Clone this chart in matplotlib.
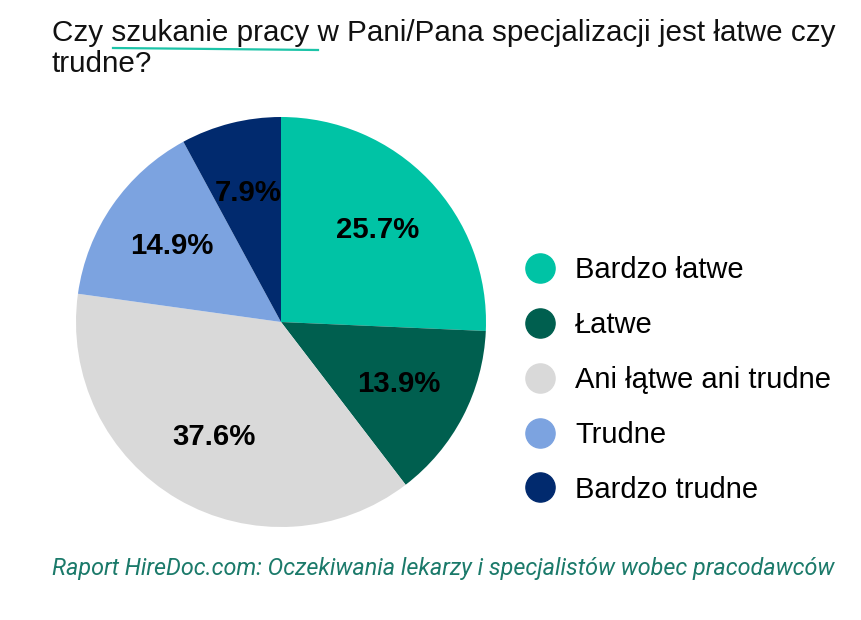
import matplotlib
matplotlib.use("Agg")
import matplotlib.pyplot as plt
from matplotlib.lines import Line2D

categories = ["Bardzo łatwe", "Łatwe", "Ani łątwe ani trudne", "Trudne", "Bardzo trudne"]
values = [25.7, 13.9, 37.6, 14.9, 7.9]
colors = ["#00C3A5", "#005F4F", "#D9D9D9", "#7CA3E0", "#012A6E"]
title_line1 = "Czy szukanie pracy w Pani/Pana specjalizacji jest łatwe czy"
title_line2 = "trudne?"
footer = "Raport HireDoc.com: Oczekiwania lekarzy i specjalistów wobec pracodawców"

W, H = 861, 620
fig = plt.figure(figsize=(W / 100, H / 100), dpi=100)
fig.patch.set_facecolor("white")

def fx(px):
    return px / W

def fy(py):
    return 1 - py / H

# pie axes
cx, cy, r = 281, 322, 205
ax = fig.add_axes([fx(cx - r), fy(cy + r), 2 * r / W, 2 * r / H])
ax.pie(values, colors=colors, startangle=90, counterclock=False,
       autopct=lambda p: f"{p:.1f}%", pctdistance=0.65, radius=1.0,
       wedgeprops=dict(linewidth=0),
       textprops=dict(fontsize=21.2, fontweight="bold", color="black",
                      family="Liberation Sans"))
ax.set_xlim(-1, 1)
ax.set_ylim(-1, 1)
ax.set_aspect("equal")
ax.axis("off")

# title
fig.text(fx(52), fy(41), title_line1, fontsize=21.3, family="Liberation Sans",
         color="#111111", ha="left", va="baseline")
fig.text(fx(52), fy(72), title_line2, fontsize=21.3, family="Liberation Sans",
         color="#111111", ha="left", va="baseline")
# underline decoration
fig.add_artist(Line2D([fx(113), fx(318)], [fy(48), fy(50)], color="#1DC4A8",
                      linewidth=1.6, transform=fig.transFigure))

# legend
handles = [Line2D([0], [0], marker="o", linestyle="", markersize=21,
                  markerfacecolor=c, markeredgecolor=c) for c in colors]
fig.legend(handles, categories, loc="center left",
           bbox_to_anchor=(fx(508), fy(380)), frameon=False,
           prop=dict(family="Liberation Sans", size=21),
           labelspacing=0.92, handletextpad=0.6, borderpad=0, handlelength=1.2)

# footer
fig.text(fx(52), fy(568), footer, fontsize=16.8, family="Roboto", style="italic",
         color="#1B7A6A", ha="left", va="center")

fig.savefig("out.png", dpi=100, facecolor="white")
